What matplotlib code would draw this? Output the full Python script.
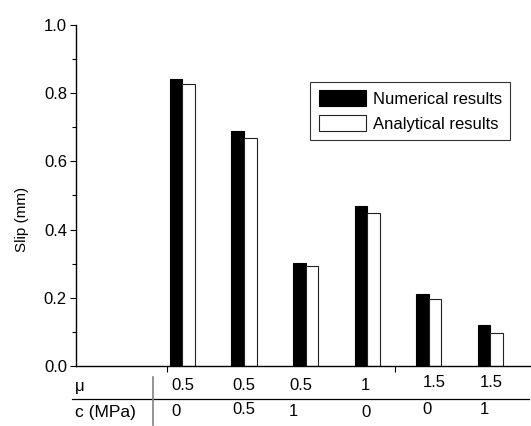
import numpy as np
import matplotlib
matplotlib.use("Agg")
import matplotlib.pyplot as plt
from matplotlib.transforms import blended_transform_factory
from matplotlib.lines import Line2D

plt.rcParams['font.family'] = ['Liberation Sans', 'DejaVu Sans']

# ---- data ----
numerical = [0.841, 0.690, 0.301, 0.470, 0.211, 0.120]
analytical = [0.827, 0.670, 0.292, 0.450, 0.196, 0.098]
mu_labels = ['0.5', '0.5', '0.5', '1', '1.5', '1.5']
c_labels = ['0', '0.5', '1', '0', '0', '1']
series_names = ['Numerical results', 'Analytical results']
ylabel = 'Slip (mm)'
row_names = ['\u03bc', 'c (MPa)']

# ---- layout ----
W, H = 531, 426
fig = plt.figure(figsize=(W / 100, H / 100), dpi=100)
ax = fig.add_axes([76 / W, 60 / H, (W - 76) / W, 341 / H])

x = np.arange(len(numerical))
bw = 0.205
ax.bar(x - bw / 2, numerical, width=bw, color='black', edgecolor='black',
       linewidth=0.8, label=series_names[0])
ax.bar(x + bw / 2, analytical, width=bw, color='white', edgecolor='#222222',
       linewidth=0.8, label=series_names[1])

ax.set_xlim(-1.726, 5.66)
ax.set_ylim(0, 1.0)
ax.spines['top'].set_visible(False)
ax.spines['right'].set_visible(False)
ax.spines['left'].set_linewidth(1.0)
ax.spines['bottom'].set_linewidth(1.0)

ax.set_yticks(np.arange(0, 1.01, 0.2))
ax.set_yticks(np.arange(0.1, 1.0, 0.2), minor=True)
ax.set_yticklabels(['%.1f' % v for v in np.arange(0, 1.01, 0.2)])
ax.tick_params(axis='y', which='major', direction='out', length=4.5, width=0.8,
               labelsize=12, pad=2)
ax.tick_params(axis='y', which='minor', direction='out', length=2.6, width=0.8)
ax.set_xticks([-0.248, 3.45])
ax.set_xticklabels([])
ax.tick_params(axis='x', which='major', direction='out', length=4.5, width=0.8)

ax.set_ylabel(ylabel, fontsize=11)
ax.yaxis.set_label_coords(-0.104, 0.431)

leg = ax.legend(loc='upper right', bbox_to_anchor=(510 / W, 1 - 81.7 / H),
                bbox_transform=fig.transFigure, frameon=True, fancybox=False,
                edgecolor='black', fontsize=12, handlelength=2.82,
                handleheight=1.1, handletextpad=0.42, borderpad=0.5,
                labelspacing=0.5, borderaxespad=0)
leg.get_frame().set_linewidth(0.8)

# ---- table below axis ----
trans = blended_transform_factory(ax.transData, fig.transFigure)
col_offsets = [-0.18, -0.18, -0.27, -0.10, -0.10, -0.175]
mu_y = [386, 386, 386, 386, 382.7, 382.7]
c_y = [411.7, 410, 411.7, 412.7, 409, 409]
for i in range(len(x)):
    ax.text(x[i] + col_offsets[i], 1 - mu_y[i] / H, mu_labels[i], transform=trans,
            ha='left', va='center', fontsize=12, clip_on=False)
    ax.text(x[i] + col_offsets[i], 1 - c_y[i] / H, c_labels[i], transform=trans,
            ha='left', va='center', fontsize=12, clip_on=False)

fig.text(75 / W, 1 - 386 / H, row_names[0], ha='left', va='center', fontsize=12)
fig.text(75 / W, 1 - 412.7 / H, row_names[1], ha='left', va='center', fontsize=12.5)

fig.add_artist(Line2D([72 / W, 529 / W], [1 - 399 / H, 1 - 399 / H],
                      transform=fig.transFigure, color='black', linewidth=0.9))
fig.add_artist(Line2D([152.7 / W, 152.7 / W], [1 - 377 / H, 1 - 425 / H],
                      transform=fig.transFigure, color='#808080', linewidth=1.2))

fig.savefig('out.png', dpi=100)
